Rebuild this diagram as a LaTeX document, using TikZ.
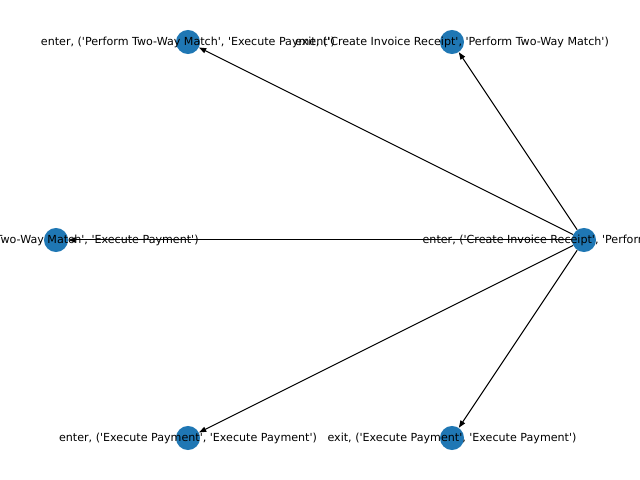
\documentclass[tikz,border=0pt]{standalone}
\usepackage{fontspec}
\setmainfont{DejaVu Sans}
\usetikzlibrary{arrows.meta}
\definecolor{nodeblue}{HTML}{1F77B4}
\newcommand{\sq}{\textquotesingle}
\tikzset{
  vtx/.style={circle, fill=nodeblue, draw=none, minimum size=17.3pt, inner sep=0pt},
  lbl/.style={font=\fontsize{8pt}{9.6pt}\selectfont, inner sep=0pt, text=black},
  edge/.style={-{Triangle[length=5.2pt,width=3.8pt]}, line width=0.72pt, black}
}
\begin{document}
\begin{tikzpicture}[x=0.72pt,y=0.72pt]
\useasboundingbox (0,0) rectangle (640,480);
\clip (0,0) rectangle (640,480);
\node[vtx] (a) at (188,438) {};
\node[vtx] (b) at (452,438) {};
\node[vtx] (c) at (56,240) {};
\node[vtx] (d) at (584,240) {};
\node[vtx] (e) at (188,42) {};
\node[vtx] (f) at (452,42) {};
\draw[edge] (d) -- (a);
\draw[edge] (d) -- (b);
\draw[edge] (d) -- (c);
\draw[edge] (d) -- (e);
\draw[edge] (d) -- (f);
\node[lbl] (la) at (a) {enter, (\sq Perform Two-Way Match\sq, \sq Execute Payment\sq)};
\node[lbl] (lb) at (b) {exit, (\sq Create Invoice Receipt\sq, \sq Perform Two-Way Match\sq)};
\node[lbl] (lc) at (c) {exit, (\sq Perform Two-Way Match\sq, \sq Execute Payment\sq)};
\node[lbl] (ld) at (d) {enter, (\sq Create Invoice Receipt\sq, \sq Perform Two-Way Match\sq)};
\node[lbl] (le) at (e) {enter, (\sq Execute Payment\sq, \sq Execute Payment\sq)};
\node[lbl] (lf) at (f) {exit, (\sq Execute Payment\sq, \sq Execute Payment\sq)};
\end{tikzpicture}
\end{document}
